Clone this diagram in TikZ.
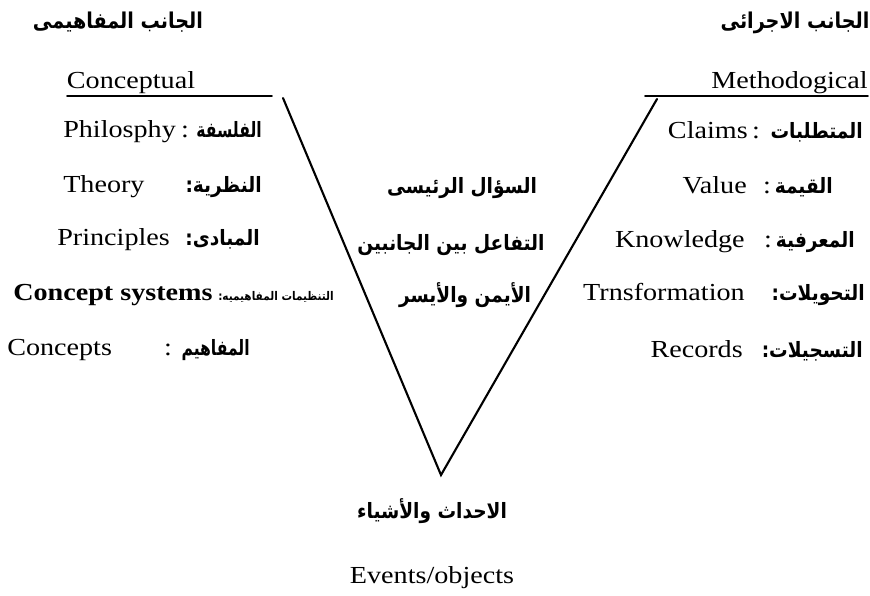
\documentclass[tikz,border=0pt]{standalone}
\usepackage{fontspec}
\setmainfont[FakeStretch=1.15]{Liberation Serif}
\newfontfamily\arabicfont[Script=Arabic,FakeStretch=0.88]{DejaVu Sans}
\newfontfamily\arabicnarrow[Script=Arabic,FakeStretch=0.74]{DejaVu Sans}
\TeXXeTstate=1
\newcommand{\artx}[1]{{\arabicfont\bfseries\beginR #1\endR}}
\newcommand{\artxn}[1]{{\arabicnarrow\bfseries\beginR #1\endR}}
\tikzset{
   every path/.style={line cap=round},
   vline/.style={line width=1.5pt},
   uline/.style={line width=1.3pt},
   en/.style={inner sep=0pt,font=\fontsize{17.4}{20}\selectfont},
   enb/.style={inner sep=0pt,font=\bfseries\fontsize{17.4}{20}\selectfont},
   arab/.style={inner sep=0pt,font=\fontsize{15}{18}\selectfont},
   arabt/.style={inner sep=0pt,font=\fontsize{15.5}{18}\selectfont},
   arabs/.style={inner sep=0pt,font=\fontsize{8.5}{10}\selectfont},
}

\begin{document}
\begin{tikzpicture}[x=0.025cm,y=-0.025cm]
  \useasboundingbox (0,0) rectangle (870,595);

  \node[arabt, anchor=base] (titleL) at (118,28)  {\artx{الجانب المفاهيمى}};
  \node[arabt, anchor=base] (titleR) at (795,28)  {\artx{الجانب الاجرائى}};

  \node[en, anchor=base]      (conc) at (131,88) {Conceptual};
  \node[en, anchor=base east] (meth) at (868,88) {Methodogical};
  \coordinate (ucl) at (67,96);   \coordinate (ucr) at (272,96);
  \coordinate (uml) at (645,96);  \coordinate (umr) at (868,96);
  \draw[uline] (ucl) -- (ucr);
  \draw[uline] (uml) -- (umr);

  \node[en, anchor=base west]    (l1)  at (63,137)  {Philosphy};
  \node[en, anchor=base]         (l1c) at (185,137) {:};
  \node[arab, anchor=base east]  (l1a) at (262,137) {\artxn{الفلسفة}};

  \node[en, anchor=base west]    (l2)  at (63,192)  {Theory};
  \node[arab, anchor=base east]  (l2a) at (262,192) {\artx{النظرية:}};

  \node[en, anchor=base west]    (l3)  at (57,245)  {Principles};
  \node[arab, anchor=base east]  (l3a) at (260,245) {\artx{المبادى:}};

  \node[enb, anchor=base west]   (l4)  at (13,300)  {Concept systems};
  \node[arabs, anchor=base west] (l4a) at (218,300) {\artx{التنظيمات المفاهيميه:}};

  \node[en, anchor=base west]    (l5)  at (7,355)   {Concepts};
  \node[en, anchor=base]         (l5c) at (168,355) {:};
  \node[arab, anchor=base east]  (l5a) at (250,355) {\artxn{المفاهيم}};

  \node[en, anchor=base east]    (r1)  at (748,138) {Claims};
  \node[en, anchor=base]         (r1c) at (756,138) {:};
  \node[arab, anchor=base east]  (r1a) at (863,138) {\artx{المتطلبات}};

  \node[en, anchor=base east]    (r2)  at (747,193) {Value};
  \node[en, anchor=base]         (r2c) at (767,193) {:};
  \node[arab, anchor=base east]  (r2a) at (833,193) {\artx{القيمة}};

  \node[en, anchor=base east]    (r3)  at (745,247) {Knowledge};
  \node[en, anchor=base]         (r3c) at (768,247) {:};
  \node[arab, anchor=base east]  (r3a) at (855,247) {\artx{المعرفية}};

  \node[en, anchor=base east]    (r4)  at (745,300) {Trnsformation};
  \node[arab, anchor=base east]  (r4a) at (865,300) {\artx{التحويلات:}};

  \node[en, anchor=base east]    (r5)  at (743,357) {Records};
  \node[arab, anchor=base east]  (r5a) at (863,357) {\artx{التسجيلات:}};

  \node[arab, anchor=base] (q1) at (462,193) {\artx{السؤال الرئيسى}};
  \node[arab, anchor=base] (q2) at (451,250) {\artx{التفاعل بين الجانبين}};
  \node[arab, anchor=base] (q3) at (465,302) {\artx{الأيمن والأيسر}};

  \node[arab, anchor=base] (ev)  at (432,518) {\artx{الاحداث والأشياء}};
  \node[en, anchor=base]   (evo) at (432,583) {Events/objects};

  \coordinate (vl) at (283,98);
  \coordinate (vb) at (441,475);
  \coordinate (vr) at (657,99);
  \draw[vline] (vl) -- (vb) -- (vr);
\end{tikzpicture}
\end{document}
